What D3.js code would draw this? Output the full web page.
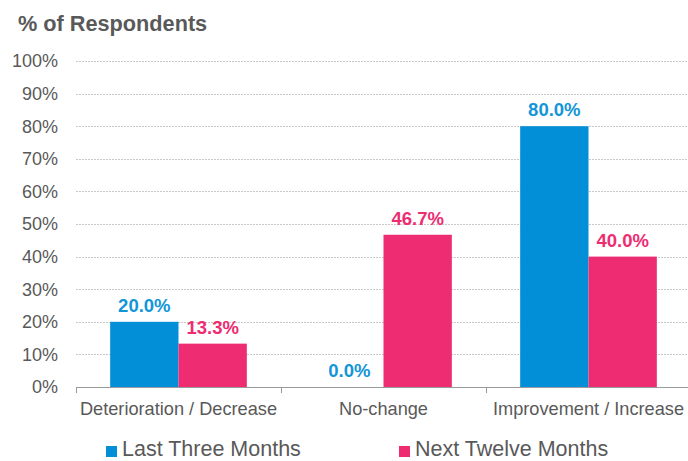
<!DOCTYPE html>
<html><head><meta charset="utf-8">
<script src="https://cdn.jsdelivr.net/npm/d3@7"></script>
<style>body{margin:0;background:#fff}svg{display:block;font-family:"Liberation Sans",Arial,sans-serif}</style>
</head><body><svg id="c" width="688" height="461"></svg>
<script>
const categories = ["Deterioration / Decrease", "No-change", "Improvement / Increase"];
const seriesNames = ["Last Three Months", "Next Twelve Months"];
const lastThree = [20.0, 0.0, 80.0];
const nextTwelve = [13.3, 46.7, 40.0];
const yTicks = [0,10,20,30,40,50,60,70,80,90,100];
const colors = ["#038FD8", "#EE2C72"];
const labelColors = ["#1296D8", "#EE2C72"];

const svg = d3.select("#c");
const L = 76, R = 691, T = 61, B = 387;
const x0 = d3.scaleBand().domain(categories).range([L, R]).padding(0);
const x1 = d3.scaleBand().domain(seriesNames).range([0, x0.bandwidth()]).paddingInner(0).paddingOuter(0.5);
const y = d3.scaleLinear().domain([0,100]).range([B, T]);
const data = [lastThree, nextTwelve];

svg.append("text").attr("x",18).attr("y",31).attr("font-size",21.7).attr("font-weight","bold").attr("fill","#595959").text("% of Respondents");

// gridlines
svg.append("g").selectAll("line").data(yTicks.filter(d=>d>0)).join("line")
  .attr("x1",L).attr("x2",R).attr("y1",d=>Math.round(y(d))+0.5).attr("y2",d=>Math.round(y(d))+0.5)
  .attr("stroke","#c8c8c8").attr("stroke-width",1).attr("stroke-dasharray","2,1");

// y labels
svg.append("g").selectAll("text").data(yTicks).join("text")
  .attr("x",58).attr("y",d=>y(d)).attr("dy","0.35em").attr("text-anchor","end")
  .attr("font-size",18).attr("fill","#595959").text(d=>d+"%");

// bars
seriesNames.forEach((s,si)=>{
  svg.append("g").selectAll("rect").data(categories).join("rect")
    .attr("x",c=>x0(c)+x1(s)).attr("width",x1.bandwidth())
    .attr("y",(c,i)=>y(data[si][i])).attr("height",(c,i)=>B-y(data[si][i]))
    .attr("fill",colors[si]);
  svg.append("g").selectAll("text").data(categories).join("text")
    .attr("x",c=>x0(c)+x1(s)+x1.bandwidth()/2).attr("y",(c,i)=>y(data[si][i])-10)
    .attr("text-anchor","middle").attr("font-size",18.5).attr("font-weight","bold")
    .attr("fill",labelColors[si]).text((c,i)=>data[si][i].toFixed(1)+"%");
});

// x axis
const xa = svg.append("g");
xa.append("line").attr("x1",L).attr("x2",R).attr("y1",B+0.5).attr("y2",B+0.5).attr("stroke","#9a9a9a");
const bounds = categories.map(c=>x0(c)).concat([R]);
xa.selectAll("line.t").data(bounds).join("line").attr("class","t")
  .attr("x1",d=>Math.round(d)+0.5).attr("x2",d=>Math.round(d)+0.5).attr("y1",B).attr("y2",B+6).attr("stroke","#9a9a9a");
xa.selectAll("text").data(categories).join("text")
  .attr("x",c=>x0(c)+x0.bandwidth()/2).attr("y",415).attr("text-anchor","middle")
  .attr("font-size",18.2).attr("fill","#595959").text(c=>c);

// legend
const legX = [106, 399];
seriesNames.forEach((s,i)=>{
  svg.append("rect").attr("x",legX[i]).attr("y",446).attr("width",11).attr("height",11).attr("fill",colors[i]);
  svg.append("text").attr("x",legX[i]+16).attr("y",456).attr("font-size",21.5).attr("fill","#595959").text(s);
});
</script></body></html>
